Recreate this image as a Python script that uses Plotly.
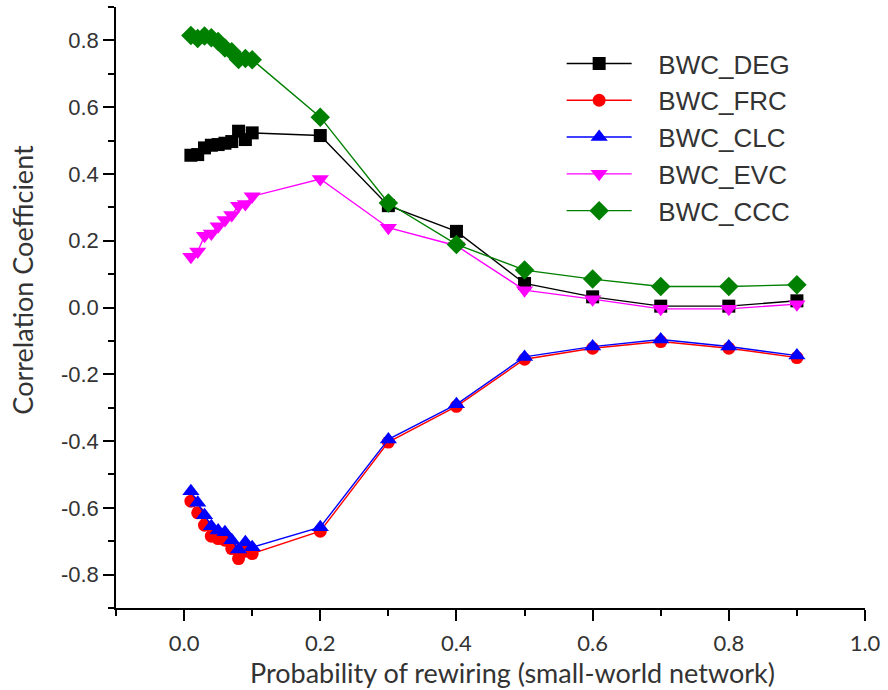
import plotly.graph_objects as go

x = [0.01, 0.02, 0.03, 0.04, 0.05, 0.06, 0.07, 0.08, 0.09, 0.1,
     0.2, 0.3, 0.4, 0.5, 0.6, 0.7, 0.8, 0.9]

bwc_deg = [0.456, 0.458, 0.478, 0.486, 0.488, 0.492, 0.497, 0.528, 0.503, 0.523,
           0.515, 0.305, 0.228, 0.072, 0.032, 0.004, 0.004, 0.02]
bwc_frc = [-0.58, -0.615, -0.652, -0.685, -0.692, -0.697, -0.722, -0.752, -0.73, -0.737,
           -0.67, -0.403, -0.296, -0.155, -0.122, -0.102, -0.122, -0.15]
bwc_clc = [-0.55, -0.585, -0.622, -0.655, -0.668, -0.673, -0.697, -0.725, -0.703, -0.718,
           -0.658, -0.395, -0.29, -0.148, -0.117, -0.096, -0.117, -0.144]
bwc_evc = [0.152, 0.168, 0.215, 0.222, 0.243, 0.262, 0.277, 0.305, 0.31, 0.333,
           0.385, 0.239, 0.185, 0.052, 0.025, -0.004, -0.004, 0.01]
bwc_ccc = [0.815, 0.806, 0.813, 0.808, 0.797, 0.777, 0.766, 0.743, 0.746, 0.742,
           0.57, 0.313, 0.189, 0.112, 0.085, 0.063, 0.063, 0.068]

x_tickvals = [0.0, 0.2, 0.4, 0.6, 0.8, 1.0]
x_ticktext = ["0.0", "0.2", "0.4", "0.6", "0.8", "1.0"]
y_tickvals = [-0.8, -0.6, -0.4, -0.2, 0.0, 0.2, 0.4, 0.6, 0.8]
y_ticktext = ["-0.8", "-0.6", "-0.4", "-0.2", "0.0", "0.2", "0.4", "0.6", "0.8"]

x_title = "Probability of rewiring (small-world network)"
y_title = "Correlation Coefficient"

series = [
    ("BWC_DEG", bwc_deg, "#000000", "square", 13),
    ("BWC_FRC", bwc_frc, "#ff0000", "circle", 13),
    ("BWC_CLC", bwc_clc, "#0000ff", "triangle-up", 15),
    ("BWC_EVC", bwc_evc, "#ff00ff", "triangle-down", 15),
    ("BWC_CCC", bwc_ccc, "#008000", "diamond", 15),
]

fig = go.Figure()
for name, ys, color, sym, size in series:
    fig.add_trace(go.Scatter(
        x=x, y=ys, name="\u00a0\u00a0\u00a0" + name, mode="lines+markers",
        line=dict(color=color, width=1.4),
        marker=dict(symbol=sym, size=size, color=color, line=dict(width=0)),
    ))

txt = "#333333"
fig.update_layout(
    width=888, height=690,
    margin=dict(l=116, r=21, t=7, b=82),
    paper_bgcolor="white", plot_bgcolor="white",
    showlegend=True,
    legend=dict(
        x=0.595, y=0.945, xanchor="left", yanchor="top",
        font=dict(family="Liberation Sans", size=26, color=txt),
        bgcolor="rgba(0,0,0,0)", itemwidth=65,
    ),
    xaxis=dict(
        range=[-0.1, 1.0], tickvals=x_tickvals, ticktext=x_ticktext,
        showgrid=False, zeroline=False, showline=True, linecolor="black", linewidth=1.5,
        ticks="outside", ticklen=11, tickwidth=1.5, tickcolor="black",
        minor=dict(dtick=0.1, tick0=0, ticks="outside", ticklen=6, tickwidth=1.5, tickcolor="black"),
        tickfont=dict(family="Lato", size=22, color=txt), ticklabelstandoff=4,
    ),
    yaxis=dict(
        range=[-0.9, 0.9], tickvals=y_tickvals, ticktext=y_ticktext,
        showgrid=False, zeroline=False, showline=True, linecolor="black", linewidth=1.5,
        ticks="outside", ticklen=11, tickwidth=1.5, tickcolor="black",
        minor=dict(dtick=0.1, tick0=0, ticks="outside", ticklen=6, tickwidth=1.5, tickcolor="black"),
        tickfont=dict(family="Liberation Sans", size=22, color=txt),
    ),
    annotations=[
        dict(text=x_title, xref="paper", yref="paper", x=0.53, y=-0.108,
             xanchor="center", yanchor="middle", showarrow=False,
             font=dict(family="Lato", size=27, color=txt)),
        dict(text=y_title, xref="paper", yref="paper", x=-0.125, y=0.547,
             xanchor="center", yanchor="middle", showarrow=False, textangle=-90,
             font=dict(family="Lato", size=27, color=txt)),
    ],
)

fig.write_html("out.html")
